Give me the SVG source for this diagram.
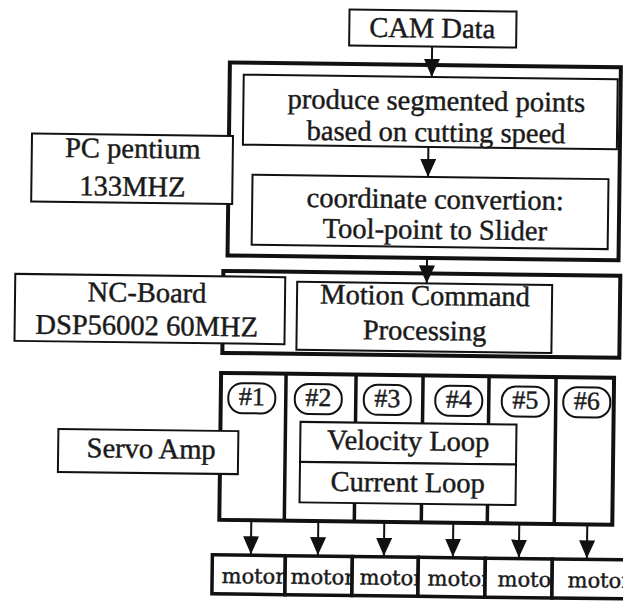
<svg xmlns="http://www.w3.org/2000/svg" width="623" height="603" viewBox="0 0 623 603">
  <style>
    text { fill: #1a1a1a; stroke: #1a1a1a; stroke-width: 0.45px; }
    .lbl { font-size: 28.5px; text-anchor: middle; }
    .tag { font-size: 26px; text-anchor: middle; }
    .mot { font-size: 21px; }
    .box { fill: #fff; stroke: #111; stroke-width: 2; }
    .frame { fill: #fff; stroke: #111; stroke-width: 4; }
    .div { stroke: #111; stroke-width: 3.5; fill: none; }
    .pill { fill: #fff; stroke: #111; stroke-width: 2; }
    .mbox { fill: #fff; stroke: #111; stroke-width: 3.5; }
    .wire { stroke: #111; stroke-width: 2; fill: none; marker-end: url(#tri); }
  </style>
  <defs>
    <marker id="tri" markerUnits="userSpaceOnUse" markerWidth="18" markerHeight="16" refX="18" refY="8" orient="auto" viewBox="0 0 18 16">
      <path d="M0,0 L18,8 L0,16 z" fill="#111"/>
    </marker>
  </defs>
  <rect width="623" height="603" fill="#fff"/>
  <!-- whole sheet sits at a slight clockwise tilt -->
  <g transform="rotate(0.7 311 300)" font-family="Liberation Serif, serif">
    <g id="cam-data">
      <rect class="box" x="346" y="9" width="167" height="36"/>
      <text class="lbl" x="429" y="36">CAM Data</text>
    </g>

    <g id="pc-stage">
      <rect class="frame" x="227" y="63.5" width="391" height="193"/>
      <g id="segment">
        <rect class="box" x="241" y="75.5" width="374" height="70"/>
        <text class="lbl" x="434" y="108.5">produce segmented points</text>
        <text class="lbl" x="434" y="140">based on cutting speed</text>
      </g>
      <g id="convert">
        <rect class="box" x="251" y="175.5" width="356" height="70"/>
        <text class="lbl" x="434" y="207">coordinate convertion:</text>
        <text class="lbl" x="434" y="237.5">Tool-point to Slider</text>
      </g>
    </g>
    <g id="pc-label">
      <rect class="box" x="30" y="137" width="201" height="68"/>
      <text class="lbl" x="131" y="160">PC pentium</text>
      <text class="lbl" x="131" y="198">133MHZ</text>
    </g>

    <g id="nc-stage">
      <rect class="frame" x="223" y="272" width="397" height="82"/>
      <g id="motion">
        <rect class="box" x="297" y="282" width="255" height="68"/>
        <text class="lbl" x="425" y="303.5">Motion Command</text>
        <text class="lbl" x="425" y="338.5">Processing</text>
      </g>
    </g>
    <g id="nc-label">
      <rect class="box" x="15" y="277.5" width="270" height="67"/>
      <text class="lbl" x="147" y="304">NC-Board</text>
      <text class="lbl" x="147" y="337">DSP56002 60MHZ</text>
    </g>

    <g id="servo-stage">
      <rect class="frame" x="222" y="374" width="393" height="147"/>
      <path class="div" d="M287,374 V521 M357,374 V521 M424,374 V521 M490,374 V521 M557,374 V521"/>
      <g id="loops">
        <rect class="box" x="302" y="422" width="216" height="40"/>
        <text class="lbl" x="410" y="449">Velocity Loop</text>
        <rect class="box" x="302" y="462" width="216" height="40.5"/>
        <text class="lbl" x="410" y="490.5">Current Loop</text>
      </g>
      <g id="ch1"><rect class="pill" x="229.5" y="384" width="47" height="30" rx="14"/><text class="tag" x="253" y="406">#1</text></g>
      <g id="ch2"><rect class="pill" x="296" y="384" width="47" height="30" rx="14"/><text class="tag" x="319.5" y="406">#2</text></g>
      <g id="ch3"><rect class="pill" x="365" y="384" width="47" height="30" rx="14"/><text class="tag" x="388.5" y="406">#3</text></g>
      <g id="ch4"><rect class="pill" x="436.5" y="384" width="47" height="30" rx="14"/><text class="tag" x="460" y="406">#4</text></g>
      <g id="ch5"><rect class="pill" x="503" y="384" width="47" height="30" rx="14"/><text class="tag" x="526.5" y="406">#5</text></g>
      <g id="ch6"><rect class="pill" x="564.5" y="384" width="47" height="30" rx="14"/><text class="tag" x="588" y="406">#6</text></g>
    </g>
    <g id="servo-label">
      <rect class="box" x="60" y="432" width="180" height="43"/>
      <text class="lbl" x="153" y="460">Servo Amp</text>
    </g>

    <!-- each motor box is painted over the tail of the previous label -->
    <g id="motors" font-family="DejaVu Serif, serif">
      <g id="motor1"><rect class="mbox" x="215.5" y="556" width="73" height="39"/><text class="mot" x="225" y="584">motor</text></g>
      <g id="motor2"><rect class="mbox" x="288.5" y="556" width="67" height="39"/><text class="mot" x="294" y="584">motor</text></g>
      <g id="motor3"><rect class="mbox" x="355.5" y="556" width="66" height="39"/><text class="mot" x="363" y="584">motor</text></g>
      <g id="motor4"><rect class="mbox" x="421.5" y="556" width="67" height="39"/><text class="mot" x="431" y="584">motor</text></g>
      <g id="motor5"><rect class="mbox" x="488.5" y="556" width="67" height="39"/><text class="mot" x="501" y="584">motor</text></g>
      <g id="motor6"><rect class="mbox" x="555.5" y="556" width="80" height="39"/><text class="mot" x="571" y="584">motor</text></g>
    </g>

    <g id="connectors">
      <line class="wire" x1="429" y1="45" x2="429" y2="75.5"/>
      <line class="wire" x1="426.5" y1="145.5" x2="426.5" y2="175.5"/>
      <line class="wire" x1="426.5" y1="256.5" x2="426.5" y2="282"/>
      <line class="wire" x1="254" y1="521" x2="254" y2="555"/>
      <line class="wire" x1="321" y1="521" x2="321" y2="555"/>
      <line class="wire" x1="387" y1="521" x2="387" y2="555"/>
      <line class="wire" x1="456" y1="521" x2="456" y2="555"/>
      <line class="wire" x1="522" y1="521" x2="522" y2="555"/>
      <line class="wire" x1="590" y1="521" x2="590" y2="555"/>
    </g>
  </g>
</svg>
